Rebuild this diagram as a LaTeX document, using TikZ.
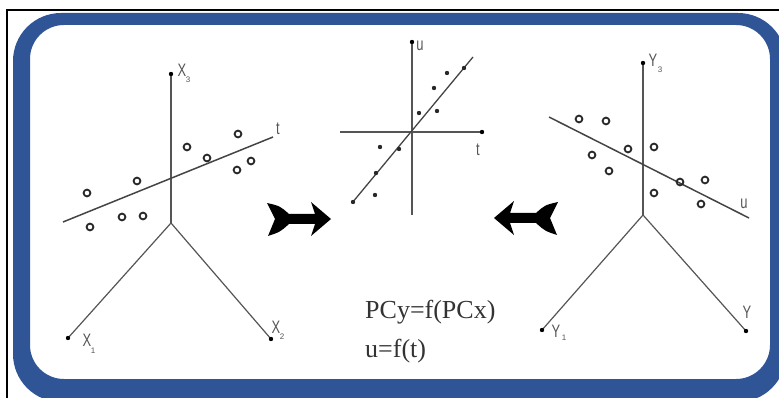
\documentclass[tikz,border=0pt]{standalone}
\usepackage{fontspec}
\setmainfont{Liberation Serif}
\newfontfamily\lsans{Liberation Sans}
\definecolor{frameblue}{RGB}{47,85,151}
\definecolor{axisgray}{RGB}{85,85,85}
\definecolor{dotgray}{RGB}{40,40,40}
\tikzset{
  axisline/.style={draw=axisgray, line width=1.2pt},
  fitline/.style={draw=axisgray!80!black, line width=1.5pt},
  ring/.style={draw=dotgray, line width=1.8pt},
  fdot/.style={fill=dotgray},
  enddot/.style={fill=black},
  axlabel/.style={text=axisgray, font=\lsans\fontsize{18}{18}\selectfont, inner sep=0pt, xscale=0.72},
  sublabel/.style={text=axisgray, font=\lsans\fontsize{8}{8}\selectfont, inner sep=0pt},
  formula/.style={text=black!80, font=\fontsize{26}{26}\selectfont, inner sep=0pt, anchor=base west},
  fatarrow/.style={fill=black}
}
\begin{document}
\begin{tikzpicture}[x=1pt,y=-1pt]
\useasboundingbox (0,0) rectangle (779,398);
\clip (0,0) rectangle (779,398);
% frames
\draw[line width=1.8pt] (7,400) -- (7,10) -- (781,10);
\fill[frameblue, even odd rule] [rounded corners=48pt] (13,13) rectangle (786,402) [rounded corners=34pt] (30,25) rectangle (770,379);

% ---------- left 3D axes ----------
\coordinate (O1) at (171,223);
\coordinate (X3e) at (171,74);
\coordinate (X1e) at (68,338);
\coordinate (X2e) at (271,339);
\draw[axisline] (O1) -- (X3e);
\draw[axisline] (O1) -- (X1e);
\draw[axisline] (O1) -- (X2e);
\foreach \p in {X3e,X1e,X2e} \fill[enddot] (\p) circle (2.2);
\node[axlabel] (lx3) at (182,70) {X};
\node[sublabel] (lx3s) at (188,80) {3};
\node[axlabel] (lx1) at (87,340) {X};
\node[sublabel] (lx1s) at (93,351) {1};
\node[axlabel] (lx2) at (276,327) {X};
\node[sublabel] (lx2s) at (282,337) {2};
\coordinate (tA) at (63,222);
\coordinate (tB) at (273,137);
\draw[fitline] (tA) -- (tB);
\node[axlabel] (tlab) at (278,129) {t};
\foreach \x/\y in {87/193,90/227,122/217,143/216,137/181,187/147,207/158,238/134,237/170,251/161}
  \draw[ring] (\x,\y) circle (3.4);

% ---------- middle 2D plot ----------
\coordinate (O2) at (412,132);
\coordinate (ut) at (412,42);
\coordinate (ub) at (412,215);
\coordinate (tl) at (340,132);
\coordinate (tr) at (482,132);
\draw[axisline, line width=1.6pt] (ub) -- (ut);
\draw[axisline, line width=1.6pt] (tl) -- (tr);
\fill[enddot] (ut) circle (2.2);
\fill[enddot] (tr) circle (2.2);
\node[axlabel] (mu) at (420,46) {u};
\node[axlabel] (mt) at (478,150) {t};
\coordinate (mA) at (352,203);
\coordinate (mB) at (473,57);
\draw[fitline, line width=1.3pt] (mA) -- (mB);
\foreach \x/\y in {353/202,375/195,376/173,380/147,399/149,419/113,437/111,434/88,447/73,464/68}
  \fill[fdot] (\x,\y) circle (2.2);

% ---------- right 3D axes ----------
\coordinate (O3) at (643,215);
\coordinate (Y3e) at (643,63);
\coordinate (Y1e) at (542,330);
\coordinate (Y2e) at (746,331);
\draw[axisline] (O3) -- (Y3e);
\draw[axisline] (O3) -- (Y1e);
\draw[axisline] (O3) -- (Y2e);
\foreach \p in {Y3e,Y1e,Y2e} \fill[enddot] (\p) circle (2.2);
\node[axlabel] (ly3) at (653,60) {Y};
\node[sublabel] (ly3s) at (660,70) {3};
\node[axlabel] (ly1) at (556,331) {Y};
\node[sublabel] (ly1s) at (564,338) {1};
\node[axlabel] (ly2) at (747,312) {Y};
\coordinate (uA) at (549,117);
\coordinate (uB) at (749,218);
\draw[fitline] (uA) -- (uB);
\node[axlabel] (ulab) at (744,204) {u};
\foreach \x/\y in {579/119,606/121,592/155,609/171,628/149,654/147,654/193,680/182,705/180,701/204}
  \draw[ring] (\x,\y) circle (3.4);

% ---------- fat arrows ----------
\begin{scope}[shift={(267,219)}]
\fill[fatarrow] (0,-16) .. controls (13,-13) .. (22,-5) -- (48,-5) -- (44,-17) -- (64,0) -- (44,17) -- (48,5) -- (22,5) .. controls (13,13) .. (1,17) -- (8,0) -- cycle;
\end{scope}
\begin{scope}[shift={(558,218)}, xscale=-1]
\fill[fatarrow] (0,-16) .. controls (13,-13) .. (22,-5) -- (48,-5) -- (44,-17) -- (64,0) -- (44,17) -- (48,5) -- (22,5) .. controls (13,13) .. (1,17) -- (8,0) -- cycle;
\end{scope}

% ---------- formulas ----------
\node[formula] (f1) at (365,318) {PCy=f(PCx)};
\node[formula] (f2) at (365,357) {u=f(t)};
\end{tikzpicture}
\end{document}
